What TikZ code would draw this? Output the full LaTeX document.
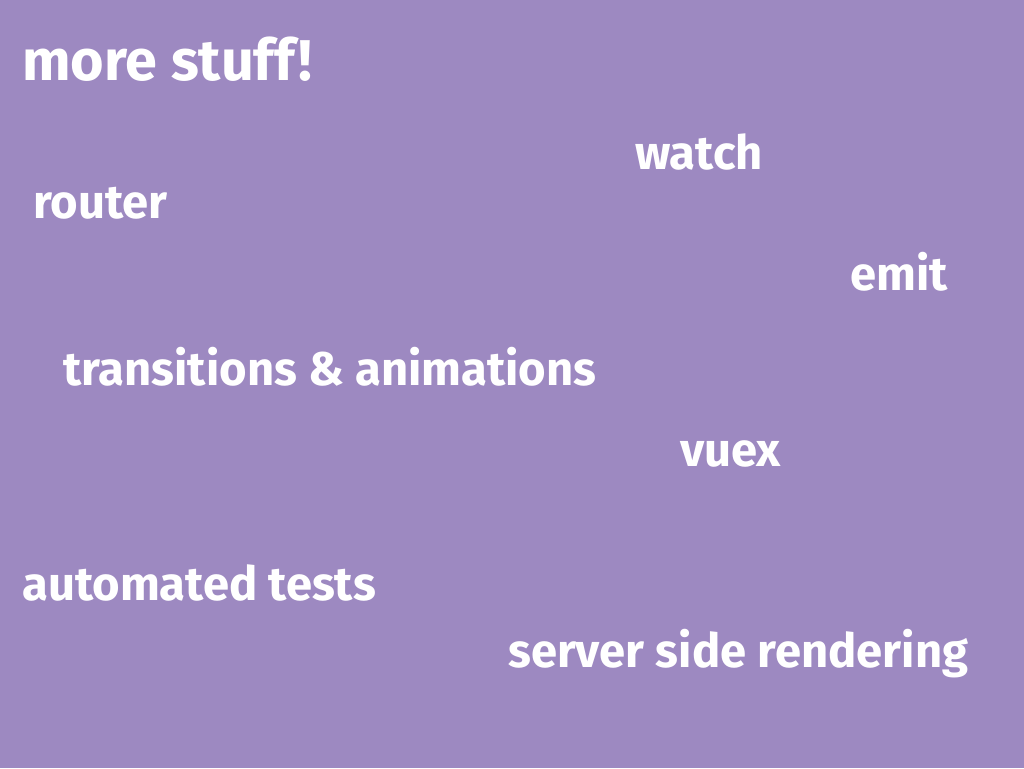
\documentclass[tikz,border=0pt]{standalone}
\usepackage{fontspec}
\setsansfont{Fira Sans}
\definecolor{slidepurple}{HTML}{9D89C1}
\usepackage{tikz}
\usetikzlibrary{positioning}

\begin{document}
\begin{tikzpicture}[
        x=1pt, y=-1pt,
        title/.style={anchor=base west, inner sep=0pt, text=white, font=\fontsize{57.5}{62}\selectfont\sffamily\bfseries},
        item/.style={anchor=base west, inner sep=0pt, text=white, font=\fontsize{47.2}{52}\selectfont\sffamily\bfseries}
    ]
        % Background (fixes the page size)
        \fill [slidepurple] (0,0) rectangle (1024,768);

        % Heading
        \node [title] (heading) at (22,80) {more stuff!};

        % Topics scattered over the slide
        \node [item] (watch) at (635,169) {watch};
        \node [item] (router) at (33,218) {router};
        \node [item] (emit) at (850,290) {emit};
        \node [item] (trans) at (63,385) {transitions \& animations};
        \node [item] (vuex) at (680,466) {vuex};
        \node [item] (tests) at (22,600) {automated tests};
        \node [item] (ssr) at (508,667) {server side rendering};
    \end{tikzpicture}
\end{document}
